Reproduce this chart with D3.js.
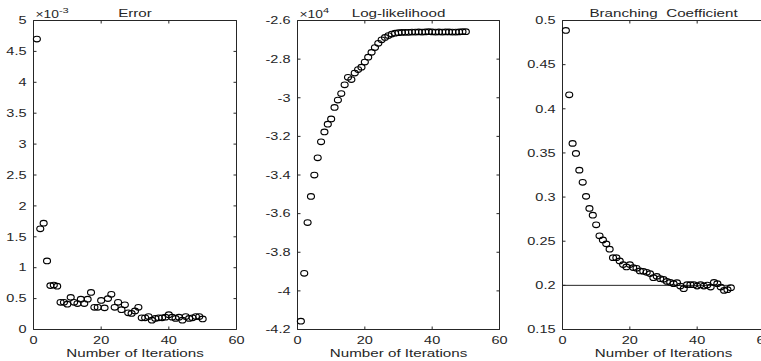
<!DOCTYPE html>
<html>
<head>
<meta charset="utf-8">
<script src="https://cdn.jsdelivr.net/npm/d3@7"></script>
<style>
body { margin: 0; background: #fff; }
svg { display: block; font-family: "Liberation Sans", Arial, sans-serif; }
</style>
</head>
<body>
<svg id="chart" width="761" height="361"></svg>
<script>
// iteration number for every point
var iterations = [1,2,3,4,5,6,7,8,9,10,11,12,13,14,15,16,17,18,19,20,21,22,23,24,25,
                  26,27,28,29,30,31,32,33,34,35,36,37,38,39,40,41,42,43,44,45,46,47,48,49,50];
// error, in units of 1e-3
var errorVals = [4.70,1.63,1.72,1.11,0.71,0.72,0.70,0.44,0.44,0.41,0.52,0.44,0.42,0.49,0.42,
                 0.49,0.60,0.36,0.36,0.47,0.35,0.50,0.57,0.36,0.44,0.32,0.40,0.27,0.26,0.30,
                 0.36,0.19,0.19,0.21,0.15,0.18,0.19,0.19,0.20,0.24,0.20,0.18,0.20,0.15,0.21,
                 0.18,0.19,0.21,0.21,0.17];
// log-likelihood, in units of 1e4
var loglikVals = [-4.157,-3.909,-3.646,-3.511,-3.400,-3.311,-3.228,-3.177,-3.137,-3.110,
                  -3.050,-3.012,-2.978,-2.933,-2.894,-2.906,-2.872,-2.854,-2.842,-2.815,
                  -2.790,-2.765,-2.740,-2.718,-2.700,-2.688,-2.678,-2.670,-2.666,-2.663,
                  -2.662,-2.661,-2.661,-2.660,-2.660,-2.659,-2.660,-2.659,-2.658,-2.659,
                  -2.660,-2.659,-2.660,-2.659,-2.659,-2.660,-2.660,-2.659,-2.658,-2.658];
var branchVals = [0.4887,0.4158,0.3608,0.3494,0.3305,0.3167,0.3008,0.2871,0.2795,0.2686,
                  0.2561,0.2515,0.2470,0.2409,0.2314,0.2314,0.2277,0.2235,0.2208,0.2235,
                  0.2201,0.2193,0.2163,0.2159,0.2148,0.2133,0.2087,0.2102,0.2076,0.2068,
                  0.2045,0.2034,0.2019,0.2030,0.1992,0.1962,0.2008,0.2008,0.2008,0.1992,
                  0.2008,0.1992,0.2004,0.1981,0.2034,0.2019,0.1981,0.1943,0.1951,0.1973];
var trueBranch = 0.2;
var trueRange = [0, 50];

var xTicks = [0, 20, 40, 60];
var errorTicks = [0, 0.5, 1, 1.5, 2, 2.5, 3, 3.5, 4, 4.5, 5];
var loglikTicks = [-4.2, -4, -3.8, -3.6, -3.4, -3.2, -3, -2.8, -2.6];
var branchTicks = [0.15, 0.2, 0.25, 0.3, 0.35, 0.4, 0.45, 0.5];

var sx = 1.38;            // the figure is stretched sideways
var plotTop = 20.5, plotBottom = 329.5;
var ink = "#262626";
var svg = d3.select("#chart");

function stretchedText(parent, x, y, str, size, anchor) {
    return parent.append("text")
        .attr("transform", `translate(${x},${y}) scale(${sx},1)`)
        .attr("text-anchor", anchor || "middle")
        .style("font-size", size + "px")
        .style("white-space", "pre")
        .attr("fill", ink)
        .text(str);
}

function drawPanel(opt) {
    var x = d3.scaleLinear().domain([0, 60]).range([opt.left, opt.right]);
    var y = d3.scaleLinear().domain(opt.domain).range([plotBottom, plotTop]);
    var g = svg.append("g");

    var fmt = opt.fmt || (d => d);
    // axes, ticks pointing inward like matlab
    var xb = g.append("g").attr("transform", `translate(0,${plotBottom})`)
        .call(d3.axisBottom(x).tickValues(xTicks).tickSizeInner(-3).tickSizeOuter(0).offset(0));
    g.append("g").attr("transform", `translate(0,${plotTop})`)
        .call(d3.axisTop(x).tickValues(xTicks).tickSizeInner(-3).tickSizeOuter(0).offset(0).tickFormat(""));
    var yl = g.append("g").attr("transform", `translate(${opt.left},0)`)
        .call(d3.axisLeft(y).tickValues(opt.ticks).tickSizeInner(-3).tickSizeOuter(0).offset(0).tickFormat(fmt));
    g.append("g").attr("transform", `translate(${opt.right},0)`)
        .call(d3.axisRight(y).tickValues(opt.ticks).tickSizeInner(-3).tickSizeOuter(0).offset(0).tickFormat(""));

    g.selectAll(".domain").attr("stroke", ink);
    g.selectAll(".tick line").attr("stroke", ink);
    xb.selectAll(".tick text")
        .attr("y", null).attr("dy", null)
        .attr("transform", `translate(0,14.5) scale(${sx},1)`)
        .attr("fill", ink).style("font-size", "10.5px").style("font-family", "inherit");
    yl.selectAll(".tick text")
        .attr("x", null).attr("dy", "0.36em")
        .attr("transform", `translate(-7,0) scale(${sx},1)`)
        .attr("fill", ink).style("font-size", "10.5px").style("font-family", "inherit");

    if (opt.refLine) {
        g.append("line")
            .attr("x1", x(trueRange[0])).attr("x2", x(trueRange[1]))
            .attr("y1", y(trueBranch)).attr("y2", y(trueBranch))
            .attr("stroke", ink).attr("stroke-width", 1);
    }

    g.selectAll("ellipse")
        .data(opt.values)
        .enter()
        .append("ellipse")
        .attr("cx", (d, i) => x(iterations[i]))
        .attr("cy", d => y(d))
        .attr("rx", 3.5)
        .attr("ry", 2.8)
        .attr("fill", "none")
        .attr("stroke", "#000")
        .attr("stroke-width", 1.15);

    var mid = (opt.left + opt.right) / 2;
    stretchedText(g, mid, 17, opt.title, 11);
    stretchedText(g, mid, 357, "Number of Iterations", 11);

    if (opt.exponent) {
        var ex = stretchedText(g, opt.left + 2, 17.5, "", 10, "start");
        ex.append("tspan").text("\u00d710");
        ex.append("tspan").attr("dy", -5).style("font-size", "8px").text(opt.exponent);
    }
}

drawPanel({ left: 33.5, right: 236.5, domain: [0, 5], ticks: errorTicks,
            values: errorVals, title: "Error", exponent: "-3" });
drawPanel({ left: 297.5, right: 499.5, domain: [-4.2, -2.6], ticks: loglikTicks,
            values: loglikVals, title: "Log-likelihood", exponent: "4" });
drawPanel({ left: 562.5, right: 764.5, domain: [0.15, 0.5], ticks: branchTicks,
            values: branchVals, title: "Branching  Coefficient", refLine: true });
</script>
</body>
</html>
